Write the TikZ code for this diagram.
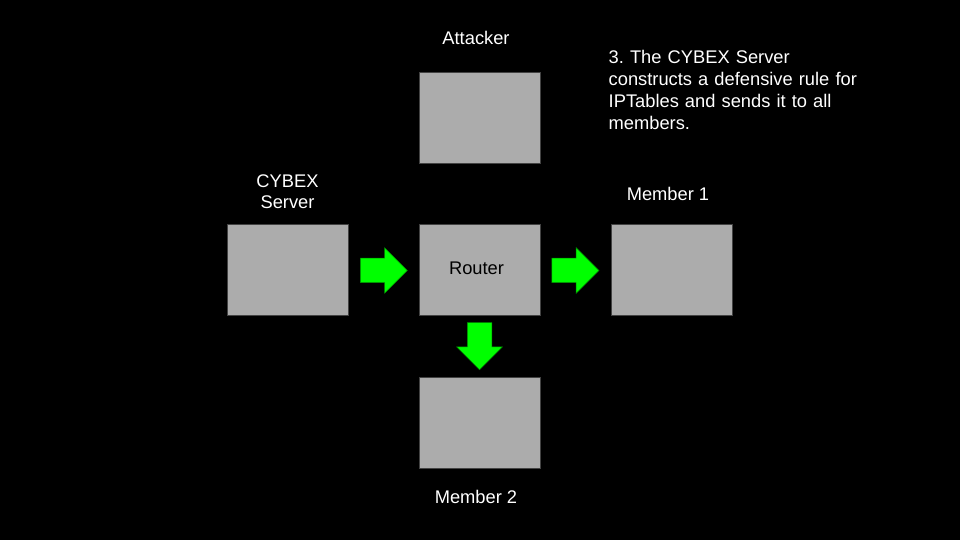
\documentclass[tikz,border=0pt]{standalone}
\usepackage{fontspec}
\setmainfont{Liberation Sans}
\usepackage{tikz}
\usetikzlibrary{positioning, shapes.arrows, calc}

\definecolor{boxfill}{HTML}{ACACAC}
\definecolor{boxedge}{HTML}{434343}
\definecolor{pushgreen}{HTML}{00FF00}
\frenchspacing

\begin{document}
\begin{tikzpicture}[x=1pt, y=1pt, node distance=70pt,
  box/.style={draw=boxedge, line width=1pt, fill=boxfill, minimum width=121pt, minimum height=91pt, inner sep=0pt},
  lbl/.style={text=white, align=center, inner sep=0pt, font=\fontsize{18.3}{21}\selectfont},
  note/.style={text=white, align=left, inner sep=0pt, text width=270pt, font=\fontsize{18.3}{22}\selectfont},
  push/.style={single arrow, fill=pushgreen, draw=pushgreen!55!black, line width=0.5pt, inner sep=12pt,
    minimum width=45pt, minimum height=47pt, single arrow head extend=10.5pt, single arrow head indent=0pt}]
  % black slide
  \fill[black] (0,0) rectangle (960,540);
  \useasboundingbox (0,0) rectangle (960,540);

  \node[box] (router) at (479.5,269.5) {};
  \node[box, left=70pt of router] (server) {};
  \node[box, right=70pt of router] (member1) {};
  \node[box, above=60.5pt of router] (attacker) {};
  \node[box, below=61pt of router] (member2) {};

  \node[lbl, text=black, anchor=base] (routerlbl) at ($(router.center)+(-3,-3.8)$) {Router};
  \node[lbl, above=27.5pt of attacker, xshift=-3.5pt] (attackerlbl) {Attacker};
  \node[lbl, above=16pt of server] (serverlbl) {CYBEX\\Server};
  \node[lbl, above=24pt of member1, xshift=-3.5pt] (member1lbl) {Member 1};
  \node[lbl, below=21pt of member2, xshift=-3.5pt] (member2lbl) {Member 2};

  \node[note, anchor=north west] (step) at (608.5,489.5)
    {3. The CYBEX Server\\constructs a defensive rule for\\IPTables and sends it to all\\members.};

  % rule goes out from the server through the router
  \node[push, anchor=tail] (toRouter) at ($(server.east)+(11.5,0)$) {};
  \node[push, anchor=tail] (toMember1) at ($(router.east)+(11.2,0)$) {};
  \node[push, anchor=tail, shape border rotate=270] (toMember2) at ($(router.south)+(0,-6)$) {};
\end{tikzpicture}
\end{document}
